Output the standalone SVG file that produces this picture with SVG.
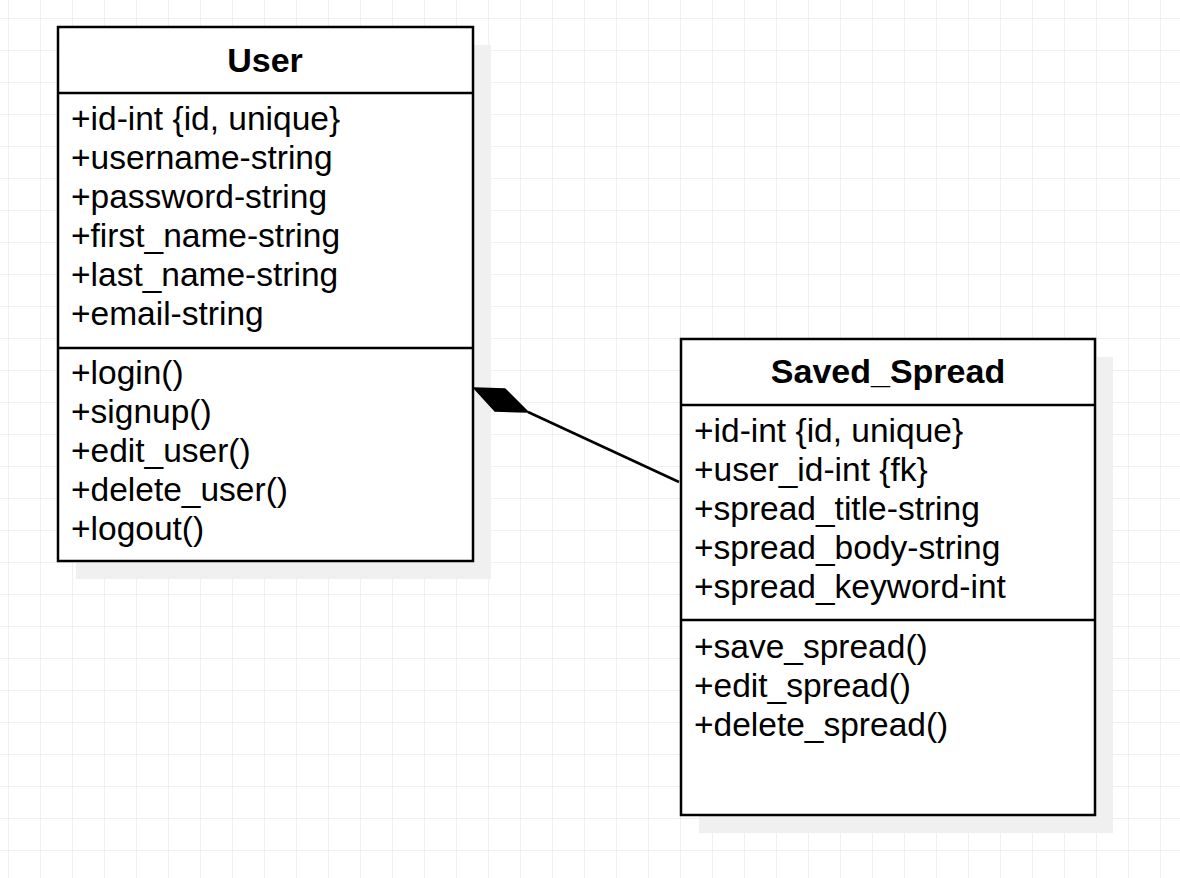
<svg xmlns="http://www.w3.org/2000/svg" width="1180" height="878" viewBox="0 0 1180 878">
<defs>
<pattern id="grid" x="8" y="18" width="32" height="32" patternUnits="userSpaceOnUse">
<path d="M0 0H32M0 0V32" fill="none" stroke="#ececec" stroke-width="1.5"/>
</pattern>
</defs>
<style>
.box{fill:#fff;stroke:#000;stroke-width:2.5}
.shadow{fill:#f0f0f0}
.sep{stroke:#000;stroke-width:2.5}
.t{font-family:"Liberation Sans",Arial,sans-serif;font-size:33.5px;fill:#000}
.h{font-family:"Liberation Sans",Arial,sans-serif;font-size:34px;font-weight:bold;fill:#000;text-anchor:middle}
</style>
<rect width="1180" height="878" fill="#fff"/>
<rect width="1180" height="878" fill="url(#grid)"/>
<g id="User">
<rect class="shadow" x="76" y="45" width="415" height="534"/>
<rect class="box" x="58" y="27" width="415" height="534"/>
<line class="sep" x1="58" y1="93" x2="473" y2="93"/>
<line class="sep" x1="58" y1="348" x2="473" y2="348"/>
<text class="h" x="265" y="72">User</text>
<text class="t" x="71" y="130">+id-int {id, unique}</text>
<text class="t" x="71" y="169">+username-string</text>
<text class="t" x="71" y="208">+password-string</text>
<text class="t" x="71" y="247">+first_name-string</text>
<text class="t" x="71" y="286">+last_name-string</text>
<text class="t" x="71" y="325">+email-string</text>
<text class="t" x="71" y="384">+login()</text>
<text class="t" x="71" y="423">+signup()</text>
<text class="t" x="71" y="462">+edit_user()</text>
<text class="t" x="71" y="501">+delete_user()</text>
<text class="t" x="71" y="540">+logout()</text>
</g>
<g id="Saved_Spread">
<rect class="shadow" x="699" y="357" width="414" height="476"/>
<rect class="box" x="681" y="339" width="414" height="476"/>
<line class="sep" x1="681" y1="405" x2="1095" y2="405"/>
<line class="sep" x1="681" y1="620" x2="1095" y2="620"/>
<text class="h" x="888" y="383">Saved_Spread</text>
<text class="t" x="694" y="442">+id-int {id, unique}</text>
<text class="t" x="694" y="481">+user_id-int {fk}</text>
<text class="t" x="694" y="520">+spread_title-string</text>
<text class="t" x="694" y="559">+spread_body-string</text>
<text class="t" x="694" y="598">+spread_keyword-int</text>
<text class="t" x="694" y="658">+save_spread()</text>
<text class="t" x="694" y="697">+edit_spread()</text>
<text class="t" x="694" y="736">+delete_spread()</text>
</g>
<g id="connectors">
<line x1="528" y1="412" x2="679" y2="482" stroke="#000" stroke-width="2.5"/>
<polygon points="474,388 505,389 528,412 495,411" fill="#000" stroke="#000" stroke-width="1.5" stroke-linejoin="round"/>
</g>
</svg>
